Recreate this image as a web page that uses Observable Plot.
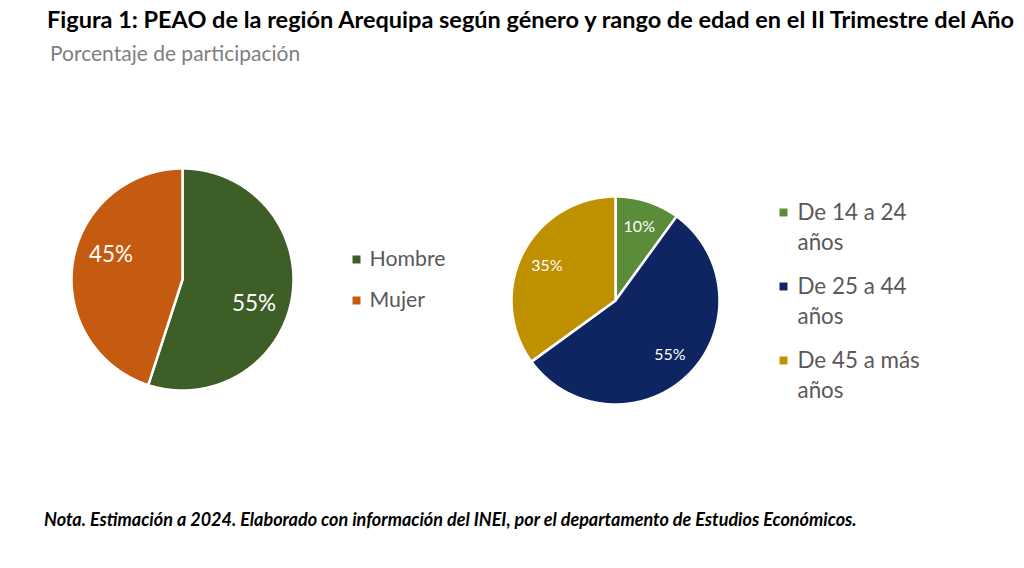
<!DOCTYPE html>
<html>
<head>
<meta charset="utf-8">
<script src="https://cdn.jsdelivr.net/npm/d3@7"></script>
<script src="https://cdn.jsdelivr.net/npm/@observablehq/plot@0.6"></script>
<style>
  html, body { margin: 0; padding: 0; background: #fff; }
  body { width: 1024px; height: 568px; position: relative; overflow: hidden; font-family: Lato, "Open Sans", sans-serif; }
  #title { position: absolute; left: 47px; top: 5px; font-size: 23.5px; font-weight: 700; color: #000; white-space: nowrap; }
  #subtitle { position: absolute; left: 50px; top: 40px; font-size: 21px; color: #7f7f7f; white-space: nowrap; }
  #chart { position: absolute; left: 0; top: 80px; }
  #note { position: absolute; left: 44px; top: 508px; font-size: 18px; font-weight: 700; font-style: italic; color: #000; white-space: nowrap; }
</style>
</head>
<body>
<div id="title">Figura 1: PEAO de la región Arequipa según género y rango de edad en el II Trimestre del Año</div>
<div id="subtitle">Porcentaje de participación</div>
<div id="chart"></div>
<div id="note">Nota. Estimación a 2024. Elaborado con información del INEI, por el departamento de Estudios Económicos.</div>
<script>
// ---- Data ----
const generoCategorias = ["Hombre", "Mujer"];
const generoValores = [55, 45];
const generoColores = ["#3d5e26", "#c55a11"];

const edadCategorias = ["De 14 a 24 años", "De 25 a 44 años", "De 45 a más años"];
const edadValores = [10, 55, 35];
const edadColores = ["#5b8c3a", "#0e2562", "#bf9000"];

// ---- Layout (pixel-unit scales) ----
const W = 1024, H = 420, Y0 = 80;
const pies = [
  {key: "genero", cats: generoCategorias, vals: generoValores, cx: 182, cy: 279, r: 111, labelK: 0.68, angleShift: 0.17, fontSize: 22.5},
  {key: "edad", cats: edadCategorias, vals: edadValores, cx: 615, cy: 300, r: 104, labelK: 0.74, angleShift: 0, fontSize: 16}
];

const slices = [];   // polygon points
const labels = [];
for (const p of pies) {
  const total = d3.sum(p.vals);
  let acc = 0;
  p.vals.forEach((v, i) => {
    const a0 = acc / total * 2 * Math.PI;
    acc += v;
    const a1 = acc / total * 2 * Math.PI;
    const id = p.key + i;
    slices.push({id, cat: p.cats[i], x: p.cx, y: p.cy});
    const n = Math.max(2, Math.ceil((a1 - a0) / (Math.PI / 360)));
    for (let k = 0; k <= n; k++) {
      const a = a0 + (a1 - a0) * k / n;
      slices.push({id, cat: p.cats[i], x: p.cx + p.r * Math.sin(a), y: p.cy - p.r * Math.cos(a)});
    }
    slices.push({id, cat: p.cats[i], x: p.cx, y: p.cy});
    const am = (a0 + a1) / 2 + p.angleShift;
    labels.push({text: v + "%", x: p.cx + p.r * p.labelK * Math.sin(am), y: p.cy - p.r * p.labelK * Math.cos(am), size: p.fontSize});
  });
}

const legendGenero = generoCategorias.map((c, i) => ({cat: c, label: c, x: 356, y: 259 + i * 41}));
const legendEdad = edadCategorias.map((c, i) => ({cat: c, label: c.replace(/ (años)$/, "\n$1"), x: 783, y: 225 + i * 74}));

const allCats = [...generoCategorias, ...edadCategorias];
const allColors = [...generoColores, ...edadColores];

const chart = Plot.plot({
  width: W,
  height: H,
  margin: 0,
  style: {fontFamily: "Lato, 'Open Sans', sans-serif", background: "transparent"},
  x: {domain: [0, W], range: [0, W], axis: null},
  y: {domain: [Y0, Y0 + H], range: [0, H], axis: null},
  color: {domain: allCats, range: allColors},
  marks: [
    Plot.line(slices, {x: "x", y: "y", z: "id", fill: "cat", stroke: "white", strokeWidth: 2.5, strokeLinejoin: "round", curve: "linear"}),
    Plot.text(labels.filter(d => d.size > 18), {x: "x", y: "y", text: "text", fill: "white", fontSize: 22.5}),
    Plot.text(labels.filter(d => d.size <= 18), {x: "x", y: "y", text: "text", fill: "white", fontSize: 16}),
    Plot.dot(legendGenero, {x: "x", y: "y", symbol: "square", fill: "cat", r: 4.5, stroke: null}),
    Plot.text(legendGenero, {x: d => d.x + 13, y: "y", text: "label", textAnchor: "start", fill: "#595959", fontSize: 21.3}),
    Plot.dot(legendEdad, {x: "x", y: d => d.y - 13, symbol: "square", fill: "cat", r: 4.5, stroke: null}),
    Plot.text(legendEdad, {x: d => d.x + 14, y: "y", text: "label", textAnchor: "start", fill: "#595959", fontSize: 22.4, lineHeight: 1.35})
  ]
});
document.getElementById("chart").appendChild(chart);
</script>
</body>
</html>
